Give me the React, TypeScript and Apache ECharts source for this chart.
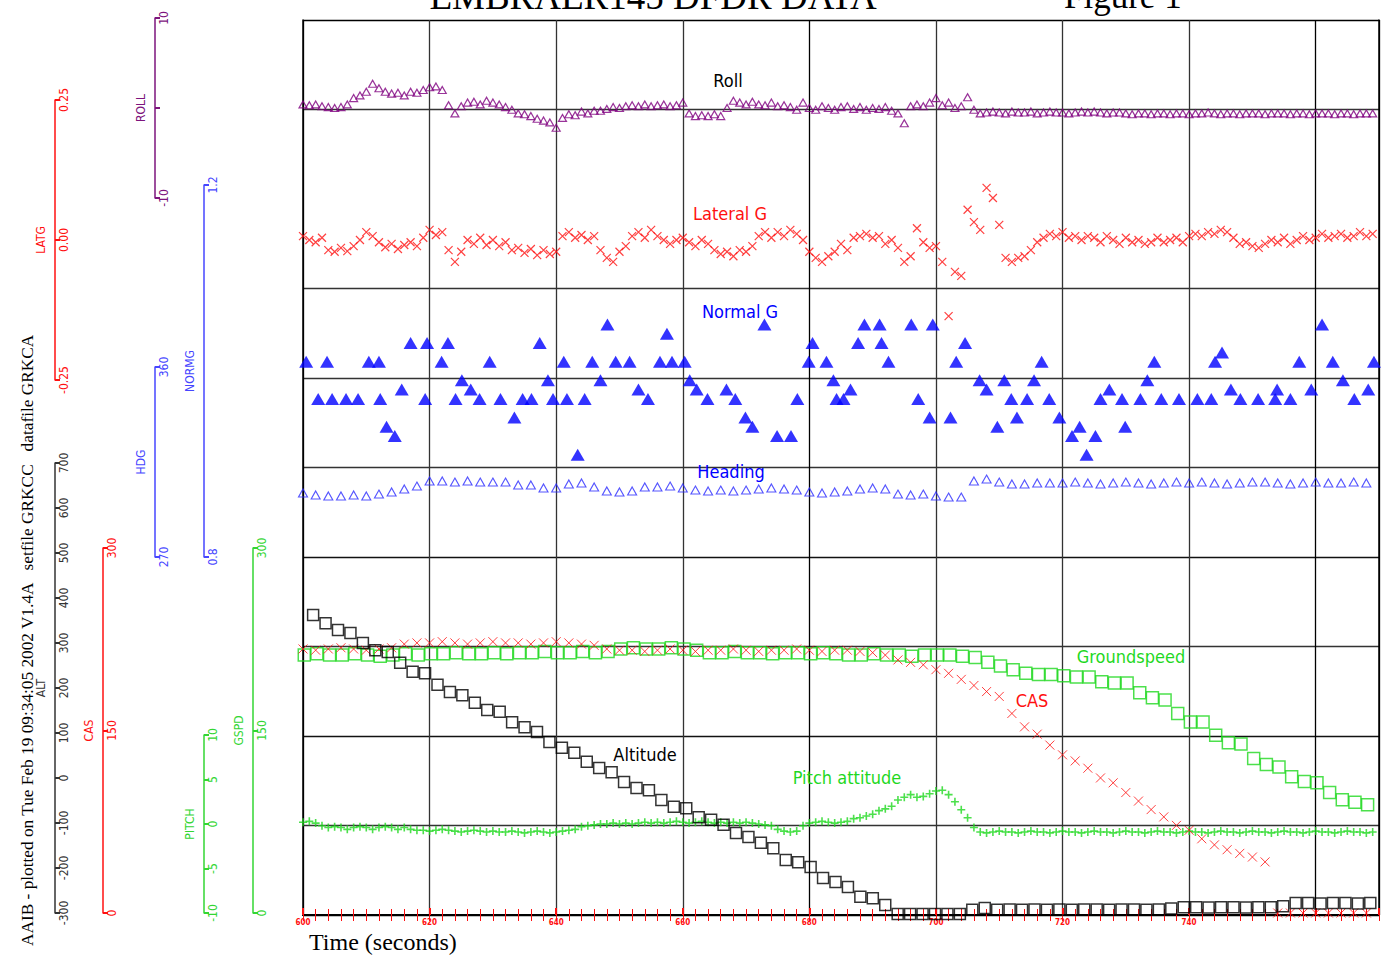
import React, { useEffect, useRef } from "react";
import * as echarts from "echarts";

const NARROW = '"Liberation Sans Narrow", "DejaVu Sans Condensed", "Arial Narrow", sans-serif';
const SERIF = '"Liberation Serif", "DejaVu Serif", serif';

const titleText = "EMBRAER145 DFDR DATA";
const figureText = "Figure 1";
const footerText = "AAIB - plotted on Tue Feb 19 09:34:05 2002 V1.4A   setfile GRKCC   datafile GRKCA";
const xAxisTitle = "Time (seconds)";
const seriesLabels = ["Roll", "Lateral G", "Normal G", "Heading", "Groundspeed", "CAS", "Altitude", "Pitch attitude"];
const sideAxisNames = ["ROLL", "LATG", "NORMG", "HDG", "ALT", "CAS", "PITCH", "GSPD"];

// [min, max, interval]
const timeAxis = [600, 770, 20];
const rollAxis = [-10, 10, 10];
const latGAxis = [-0.25, 0.25, 0.25];
const normGAxis = [0.8, 1.2, 0.4];
const headingAxis = [270, 360, 90];
const altAxis = [-300, 700, 100];
const casAxis = [0, 300, 150];
const pitchAxis = [-10, 10, 5];
const gspdAxis = [0, 300, 150];

// Roll (deg), 1 Hz from t = 600 s
const rollValues = [
  0.4, 0.3, 0.4, 0.2, 0.1, 0.0, 0.1, 0.4, 1.1, 1.4,
  1.8, 2.7, 2.2, 1.8, 1.6, 1.7, 1.4, 1.8, 1.7, 2.0,
  2.3, 2.4, 2.0, 0.3, -0.6, 0.2, 0.6, 0.7, 0.4, 0.8,
  0.6, 0.4, 0.1, -0.2, -0.6, -0.7, -0.9, -1.2, -1.4, -1.6,
  -2.2, -1.1, -0.7, -0.8, -0.4, -0.6, -0.3, -0.3, -0.1, 0.1,
  0.0, 0.2, 0.3, 0.2, 0.4, 0.2, 0.3, 0.4, 0.2, 0.3,
  0.6, -0.6, -0.9, -0.8, -0.9, -0.7, -0.9, 0.0, 0.8, 0.6,
  0.4, 0.7, 0.4, 0.3, 0.6, 0.2, 0.3, 0.1, -0.2, 0.6,
  0.0, -0.2, 0.2, 0.0, -0.2, 0.1, 0.2, -0.1, 0.1, -0.2,
  0.0, -0.1, 0.1, -0.3, -0.6, -1.7, 0.2, 0.4, 0.2, 0.6,
  1.1, 0.3, 0.6, 0.0, 0.2, 1.2, -0.2, -0.6,
  -0.5, -0.4, -0.5, -0.6, -0.4, -0.5, -0.5, -0.4, -0.6, -0.5,
  -0.4, -0.5, -0.5, -0.6, -0.5, -0.4, -0.5, -0.4, -0.5, -0.6,
  -0.5, -0.5, -0.6, -0.7, -0.6, -0.6, -0.7, -0.6, -0.6, -0.7,
  -0.6, -0.6, -0.7, -0.6, -0.6, -0.5, -0.6, -0.7, -0.6, -0.6,
  -0.7, -0.6, -0.6, -0.6, -0.7, -0.6, -0.6, -0.6, -0.7, -0.6,
  -0.6, -0.7, -0.6, -0.6, -0.6, -0.7, -0.6, -0.6, -0.7, -0.6,
  -0.6, -0.6,
];

// Lateral G (g), 1 Hz from t = 600 s
const latGValues = [
  0.007, 0.000, -0.004, 0.004, -0.018, -0.021, -0.014, -0.020, -0.011, 0.000,
  0.014, 0.007, -0.004, -0.013, -0.007, -0.016, -0.009, -0.004, -0.011, 0.004,
  0.018, 0.009, 0.014, -0.018, -0.039, -0.021, 0.000, -0.007, 0.004, -0.009,
  0.000, -0.011, -0.004, -0.018, -0.014, -0.023, -0.016, -0.027, -0.018, -0.025,
  -0.021, 0.007, 0.014, 0.004, 0.009, 0.000, 0.007, -0.018, -0.032, -0.039,
  -0.021, -0.011, 0.007, 0.014, 0.004, 0.018, 0.007, 0.000, -0.007, 0.000,
  0.004, -0.004, -0.011, 0.000, -0.007, -0.018, -0.025, -0.021, -0.029, -0.018,
  -0.021, -0.011, 0.007, 0.014, 0.004, 0.014, 0.007, 0.018, 0.011, 0.000,
  -0.021, -0.032, -0.039, -0.029, -0.021, -0.007, -0.018, 0.004, 0.007, 0.011,
  0.004, 0.007, -0.007, 0.000, -0.014, -0.039, -0.029, 0.021, -0.004, -0.014,
  -0.011, -0.039, -0.136, -0.057, -0.064, 0.054, 0.032, 0.018, 0.093, 0.075,
  0.027, -0.032, -0.039, -0.032, -0.029, -0.018, -0.004, 0.004, 0.011, 0.007,
  0.014, 0.004, 0.007, 0.000, 0.007, 0.004, -0.004, 0.007, 0.000, -0.007,
  0.004, -0.004, 0.000, -0.007, -0.004, 0.004, -0.004, 0.000, 0.004, -0.004,
  0.007, 0.011, 0.007, 0.014, 0.011, 0.018, 0.014, 0.004, -0.007, -0.004,
  -0.011, -0.014, -0.007, 0.000, -0.004, 0.004, -0.007, 0.000, 0.007, 0.000,
  0.004, 0.011, 0.004, 0.007, 0.011, 0.004, 0.007, 0.014, 0.007, 0.011,
];

// Normal G (g), [time s, value]
const normGPoints = [
  [600.5, 1.01], [602.4, 0.97], [603.8, 1.01], [604.6, 0.97], [606.8, 0.97], [608.7, 0.97], [610.4, 1.01], [612.0, 1.01], [612.2, 0.97], [613.2, 0.94],
  [614.5, 0.93], [615.6, 0.98], [617.0, 1.03], [619.3, 0.97], [619.6, 1.03], [621.9, 1.01], [622.9, 1.03], [624.1, 0.97], [625.1, 0.99], [626.5, 0.98],
  [627.9, 0.97], [629.5, 1.01], [631.2, 0.97], [633.4, 0.95], [634.7, 0.97], [636.1, 0.97], [637.4, 1.03], [638.7, 0.99], [639.5, 0.97], [641.2, 1.01],
  [641.7, 0.97], [643.4, 0.91], [644.5, 0.97], [645.7, 1.01], [647.0, 0.99], [648.1, 1.05], [649.4, 1.01], [651.6, 1.01], [653.0, 0.98], [654.5, 0.97],
  [656.4, 1.01], [657.5, 1.04], [658.3, 1.01], [660.3, 1.01], [661.1, 0.99], [662.2, 0.98], [663.9, 0.97], [666.9, 0.98], [668.3, 0.97], [669.9, 0.95],
  [671.0, 0.94], [672.9, 1.05], [674.9, 0.93], [677.1, 0.93], [678.1, 0.97], [679.9, 1.01], [680.5, 1.03], [682.7, 1.01], [683.8, 0.99], [684.3, 0.97],
  [685.4, 0.97], [686.5, 0.98], [687.7, 1.03], [688.7, 1.05], [691.1, 1.05], [691.4, 1.03], [692.5, 1.01], [696.1, 1.05], [697.2, 0.97], [699.0, 0.95],
  [699.5, 1.05], [702.3, 0.95], [703.2, 1.01], [704.6, 1.03], [706.9, 0.99], [708.0, 0.98], [709.7, 0.94], [710.8, 0.99], [711.9, 0.97], [712.8, 0.95],
  [714.4, 0.97], [715.5, 0.99], [716.7, 1.01], [717.9, 0.97], [719.5, 0.95], [721.5, 0.93], [722.7, 0.94], [723.8, 0.91], [725.2, 0.93], [726.0, 0.97],
  [727.4, 0.98], [729.4, 0.97], [729.9, 0.94], [732.3, 0.97], [733.4, 0.99], [734.5, 1.01], [735.6, 0.97], [738.4, 0.97], [741.3, 0.97], [743.5, 0.97],
  [744.1, 1.01], [745.2, 1.02], [746.6, 0.98], [748.1, 0.97], [750.9, 0.97], [753.6, 0.97], [753.9, 0.98], [756.0, 0.97], [757.4, 1.01], [759.3, 0.98],
  [761.0, 1.05], [762.7, 1.01], [764.3, 0.99], [766.1, 0.97], [768.3, 0.98], [769.2, 1.01],
];

// Heading (deg), every 2 s from t = 600 s
const headingValues = [
  300.3, 299.4, 298.9, 298.9, 299.4, 298.9, 299.8, 300.8, 302.2, 303.6,
  306.0, 306.0, 305.5, 306.0, 305.5, 305.5, 305.5, 304.1, 304.1, 302.7,
  302.7, 304.6, 305.1, 303.2, 301.3, 300.8, 301.3, 303.2, 303.2, 303.6,
  302.7, 301.7, 301.3, 301.7, 301.3, 301.7, 302.2, 302.7, 302.2, 301.7,
  300.8, 300.3, 300.8, 301.3, 302.2, 302.7, 302.2, 299.8, 299.4, 299.8,
  298.9, 298.4, 298.4, 306.0, 306.9, 305.5, 304.6, 304.6, 305.1, 305.1,
  305.1, 305.5, 305.1, 304.6, 305.1, 305.5, 305.1, 304.6, 305.1, 305.5,
  305.1, 305.5, 305.1, 304.6, 305.1, 305.5, 305.5, 305.1, 304.6, 305.1,
  305.5, 305.1, 305.1, 305.5, 305.1,
];

// Pitch attitude (deg), 1 Hz from t = 600 s
const pitchValues = [
  0.2, 0.3, 0.1, -0.2, -0.4, -0.3,
  -0.4, -0.6, -0.4, -0.3, -0.4, -0.6, -0.4, -0.3, -0.4, -0.6, -0.4,
  -0.6, -0.7, -0.7, -0.8, -0.7, -0.6, -0.7, -0.8, -0.9, -0.8, -0.7, -0.8,
  -0.9, -0.8, -0.9, -0.9, -0.8, -0.9, -1.0, -0.9, -0.8, -0.9, -1.0, -0.9,
  -0.8, -0.7, -0.6, -0.3, -0.2, -0.1, 0.0, 0.0, 0.1, 0.0,
  0.1, 0.0, 0.1, 0.2, 0.1, 0.2, 0.1, 0.2, 0.3, 0.2, 0.1, 0.2, 0.3, 0.2, 0.1,
  0.2, 0.1, 0.2, 0.1, 0.2, 0.1, 0.0, -0.1, -0.2, -0.6, -0.8, -0.9, -0.8, -0.2, 0.1,
  0.2, 0.3, 0.2, 0.1, 0.2, 0.3, 0.6, 0.7, 0.9, 1.1, 1.5, 1.7, 2.0, 2.7, 3.0, 3.3, 3.0, 3.1, 3.4, 3.7,
  3.8, 3.3, 2.5, 1.6, 0.7, -0.4,
  -0.9, -1.0, -0.9, -0.8, -0.9, -0.9, -1.0, -0.9, -0.8, -0.9,
  -0.9, -1.0, -0.9, -0.8, -0.9, -0.9, -1.0, -0.9, -0.8, -0.9,
  -0.9, -1.0, -0.9, -0.8, -0.9, -0.9, -1.0, -0.9, -0.8, -0.9,
  -0.9, -1.0, -0.9, -0.8, -0.9, -0.9, -1.0, -0.9, -0.8, -0.9,
  -0.9, -1.0, -0.9, -0.8, -0.9, -0.9, -1.0, -0.9, -0.8, -0.9,
  -0.9, -1.0, -0.9, -0.8, -0.9, -0.9, -1.0, -0.9, -0.8, -0.9,
  -0.9, -1.0, -0.9,
];

// Altitude (ft), one sample every 1.965 s from t = 601.6 s
const altStart = 601.6;
const altStep = 1.965;
const altValues = [
  362, 344, 329, 322, 300, 284, 280, 256, 236, 233,
  207, 191, 184, 167, 151, 147, 124, 113, 102, 80,
  67, 56, 36, 22, 13, -9, -22, -27, -49, -64,
  -67, -87, -93, -104, -122, -131, -144, -156, -182, -187,
  -198, -222, -231, -242, -264, -267, -282, -302, -302, -302,
  -302, -302, -302, -293, -289, -293, -292, -293, -292, -293,
  -292, -293, -292, -292, -293, -292, -292, -293, -292, -290,
  -287, -287, -288, -287, -287, -288, -287, -287, -285, -278,
  -278, -279, -278, -278, -279, -278,
];

// Computed airspeed (kt), every 2 s from t = 600 s
const casValues = [
  217, 216, 217, 218, 217, 216, 217, 218,
  221, 222, 222, 223, 222, 221, 222, 223, 222, 222, 221, 222, 223, 222, 221, 220,
  217, 216, 216, 215, 216, 217, 216, 215, 216, 216, 217, 216, 215, 216, 216, 217, 216, 215, 216, 216, 215, 214,
  212, 208, 206, 204, 200, 197, 192, 187, 182, 178, 164, 153, 147, 138, 130, 125, 119, 111, 107, 99,
  92, 85, 79, 72, 68, 61, 56, 52, 49, 46, 42,
  0, 0, 0, 0, 0, 0, 0, 0,
];

// Groundspeed (kt), every 2 s from t = 600.2 s
const gspdStart = 600.2;
const gspdValues = [
  212, 213, 212, 212, 213, 212, 211, 212, 213, 212,
  213, 213, 214, 213, 213, 214, 213,
  214, 214, 215, 214, 214, 215, 214, 215,
  217, 218, 217, 217, 218, 217, 216,
  214, 214, 215, 214, 214, 213, 214, 214, 213, 214, 213,
  212, 212, 213, 212, 212, 211, 212, 212, 212, 211,
  210, 206, 203, 200, 197, 196, 196, 195, 194, 194,
  190, 189, 189, 181, 177, 175, 164, 157, 157, 146,
  140, 139, 127, 122, 120, 112, 108, 107, 99, 93,
  91, 89,
];

const seq = (start: number, step: number, vals: number[]) =>
  vals.map((v, i) => [Math.round((start + i * step) * 1000) / 1000, v]);

const X_PATH = "path://M0,0L10,10M10,0L0,10";
const PLUS_PATH = "path://M5,0L5,10M0,5L10,5";

function buildOption() {
  const L = 303;
  const R = 14;
  const PURPLE = "#7d147d";
  const RED = "#ff1010";
  const BLUE = "#0000ff";
  const BLUE_AX = "#4646ff";
  const GREEN = "#1fd81f";
  const GREEN_AX = "#33d633";

  const grids: any[] = [
    { left: L, right: R, top: 20, bottom: 47 },
    { left: L, right: R, top: 18, height: 180 },
    { left: L, right: R, top: 100, height: 280 },
    { left: L, right: R, top: 185, height: 372 },
    { left: L, right: R, top: 367, height: 190 },
    { left: L, right: R, top: 463, height: 450 },
    { left: L, right: R, top: 548, height: 365 },
    { left: L, right: R, top: 735, height: 178 },
    { left: L, right: R, top: 548, height: 365 },
  ];

  const [tMin, tMax, tInt] = timeAxis;
  const xAxes: any[] = [
    {
      type: "value", gridIndex: 0, position: "bottom", min: tMin, max: tMax, interval: tInt,
      axisLine: { show: true, lineStyle: { color: "#000", width: 2 } },
      axisTick: { show: true, inside: true, length: 7, lineStyle: { color: RED, width: 2 } },
      axisLabel: {
        show: true, color: RED, fontSize: 8, fontWeight: "bold", margin: 3, fontFamily: NARROW,
        formatter: (v: number) => (v > tMax - tInt ? "" : String(v)),
      },
      splitLine: {
        show: true,
        lineStyle: { width: 1.3, color: ["#000", "#333", "#333", "#333", "#000", "#333", "#333", "#333", "#000", "#000"] },
      },
    },
    {
      type: "value", gridIndex: 0, position: "top", min: tMin, max: tMax, interval: 2,
      axisLine: { show: true, lineStyle: { color: "#000", width: 2 } },
      axisTick: { show: true, inside: true, length: 6, lineStyle: { color: RED, width: 1 } },
      axisLabel: { show: false }, splitLine: { show: false },
    },
    {
      type: "value", gridIndex: 0, position: "bottom", min: tMin, max: tMax, interval: 2,
      axisLine: { show: false },
      axisTick: { show: true, inside: true, length: 6, lineStyle: { color: RED, width: 1 } },
      axisLabel: { show: false }, splitLine: { show: false },
    },
  ];
  for (let g = 1; g <= 8; g++) {
    xAxes.push({ type: "value", gridIndex: g, min: tMin, max: tMax, show: false });
  }

  const yAxes: any[] = [
    {
      type: "value", gridIndex: 0, position: "left", min: 0, max: 10, interval: 1,
      axisLine: { show: true, lineStyle: { color: "#000", width: 1.5 } },
      axisTick: { show: false }, axisLabel: { show: false },
      splitLine: {
        show: true,
        lineStyle: { width: 1.3, color: ["#000", "#333", "#111", "#333", "#111", "#333", "#333", "#333", "rgba(0,0,0,0)", "#333", "#000"] },
      },
    },
    {
      type: "value", gridIndex: 0, position: "right", min: 0, max: 10,
      axisLine: { show: true, lineStyle: { color: "#000", width: 1.5 } },
      axisTick: { show: false }, axisLabel: { show: false }, splitLine: { show: false },
    },
  ];

  const side = [
    { grid: 1, range: rollAxis, x: 155, color: PURPLE, fmt: (v: number) => (v === 0 ? "" : String(v)) },
    { grid: 2, range: latGAxis, x: 55, color: RED, fmt: (v: number) => v.toFixed(2) },
    { grid: 3, range: normGAxis, x: 204, color: BLUE_AX, fmt: (v: number) => v.toFixed(1) },
    { grid: 4, range: headingAxis, x: 155, color: BLUE_AX, fmt: (v: number) => String(v) },
    { grid: 5, range: altAxis, x: 55, color: "#333", fmt: (v: number) => String(v) },
    { grid: 6, range: casAxis, x: 103, color: RED, fmt: (v: number) => String(v) },
    { grid: 7, range: pitchAxis, x: 204, color: GREEN_AX, fmt: (v: number) => String(v) },
    { grid: 8, range: gspdAxis, x: 253, color: GREEN_AX, fmt: (v: number) => String(v) },
  ];
  side.forEach((s, i) => {
    yAxes.push({
      type: "value", gridIndex: s.grid, position: "left", offset: L - s.x,
      min: s.range[0], max: s.range[1], interval: s.range[2],
      name: sideAxisNames[i], nameLocation: "middle", nameGap: 8,
      nameTextStyle: { color: s.color, fontSize: 12, fontFamily: NARROW },
      axisLine: { show: true, lineStyle: { color: s.color, width: 1.5 } },
      axisTick: { show: true, inside: true, length: 5, lineStyle: { color: s.color, width: 2 } },
      axisLabel: { show: true, inside: true, rotate: 90, margin: 3, color: s.color, fontSize: 12, fontFamily: NARROW, formatter: s.fmt },
      splitLine: { show: false },
    });
  });

  const base = { type: "scatter", clip: false, silent: true, animation: false, emphasis: { disabled: true } };
  const hollow = (c: string, w: number) => ({ color: "rgba(0,0,0,0)", borderColor: c, borderWidth: w });

  const series: any[] = [
    { ...base, name: "Heading", xAxisIndex: 6, yAxisIndex: 5, data: seq(600, 2, headingValues), symbol: "triangle", symbolSize: [9, 8], itemStyle: hollow("#2b2bff", 1.1) },
    { ...base, name: "Normal G", xAxisIndex: 5, yAxisIndex: 4, data: normGPoints, symbol: "triangle", symbolSize: [14, 12], itemStyle: { color: BLUE } },
    { ...base, name: "Lateral G", xAxisIndex: 4, yAxisIndex: 3, data: seq(600, 1, latGValues), symbol: X_PATH, symbolSize: 8, itemStyle: hollow(RED, 1.2) },
    { ...base, name: "Roll", xAxisIndex: 3, yAxisIndex: 2, data: seq(600, 1, rollValues), symbol: "triangle", symbolSize: [8, 7], itemStyle: hollow("#800080", 1.2) },
    { ...base, name: "Pitch attitude", xAxisIndex: 9, yAxisIndex: 8, data: seq(600, 1, pitchValues), symbol: PLUS_PATH, symbolSize: 8, itemStyle: hollow(GREEN, 1.6) },
    { ...base, name: "Groundspeed", xAxisIndex: 10, yAxisIndex: 9, data: seq(gspdStart, 2, gspdValues), symbol: "rect", symbolSize: 12, itemStyle: hollow(GREEN, 1.5) },
    { ...base, name: "CAS", xAxisIndex: 8, yAxisIndex: 7, data: seq(600, 2, casValues), symbol: X_PATH, symbolSize: 9, itemStyle: hollow(RED, 1) },
    { ...base, name: "Altitude", xAxisIndex: 7, yAxisIndex: 6, data: seq(altStart, altStep, altValues), symbol: "rect", symbolSize: 11, itemStyle: hollow("#000", 1.5) },
  ];

  const labelPos = [
    { x: 728, y: 80, color: "#000" },
    { x: 730, y: 213, color: RED },
    { x: 740, y: 311, color: BLUE },
    { x: 731, y: 471, color: BLUE },
    { x: 1131, y: 656, color: GREEN },
    { x: 1032, y: 700, color: RED },
    { x: 645, y: 754, color: "#000" },
    { x: 847, y: 777, color: GREEN },
  ];

  const graphic: any[] = [
    { type: "text", x: 653, y: -4, style: { text: titleText, fontSize: 37, fontFamily: SERIF, fill: "#000", align: "center", verticalAlign: "middle" } },
    { type: "text", x: 1064, y: -4, style: { text: figureText, fontSize: 35, fontFamily: SERIF, fill: "#000", align: "left", verticalAlign: "middle" } },
    { type: "text", x: 309, y: 942, style: { text: xAxisTitle, fontSize: 24, fontFamily: SERIF, fill: "#000", align: "left", verticalAlign: "middle" } },
    { type: "text", x: 27, y: 946, rotation: Math.PI / 2, style: { text: footerText, fontSize: 17.3, fontFamily: SERIF, fill: "#000", align: "left", verticalAlign: "middle" } },
    ...labelPos.map((p, i) => ({
      type: "text", x: p.x, y: p.y, z: 100,
      style: { text: seriesLabels[i], fontSize: 18, fontFamily: NARROW, fill: p.color, align: "center", verticalAlign: "middle" },
    })),
  ];

  return {
    animation: false,
    backgroundColor: "#fff",
    grid: grids,
    xAxis: xAxes,
    yAxis: yAxes,
    series,
    graphic,
  };
}

export default function App() {
  const ref = useRef<HTMLDivElement>(null);
  useEffect(() => {
    if (!ref.current) return;
    const chart = echarts.init(ref.current, null, { renderer: "svg" });
    chart.setOption(buildOption() as any);
    return () => chart.dispose();
  }, []);
  return (
    <div
      ref={ref}
      style={{ position: "fixed", left: 0, top: 0, width: 1393, height: 962, background: "#fff" }}
    />
  );
}
